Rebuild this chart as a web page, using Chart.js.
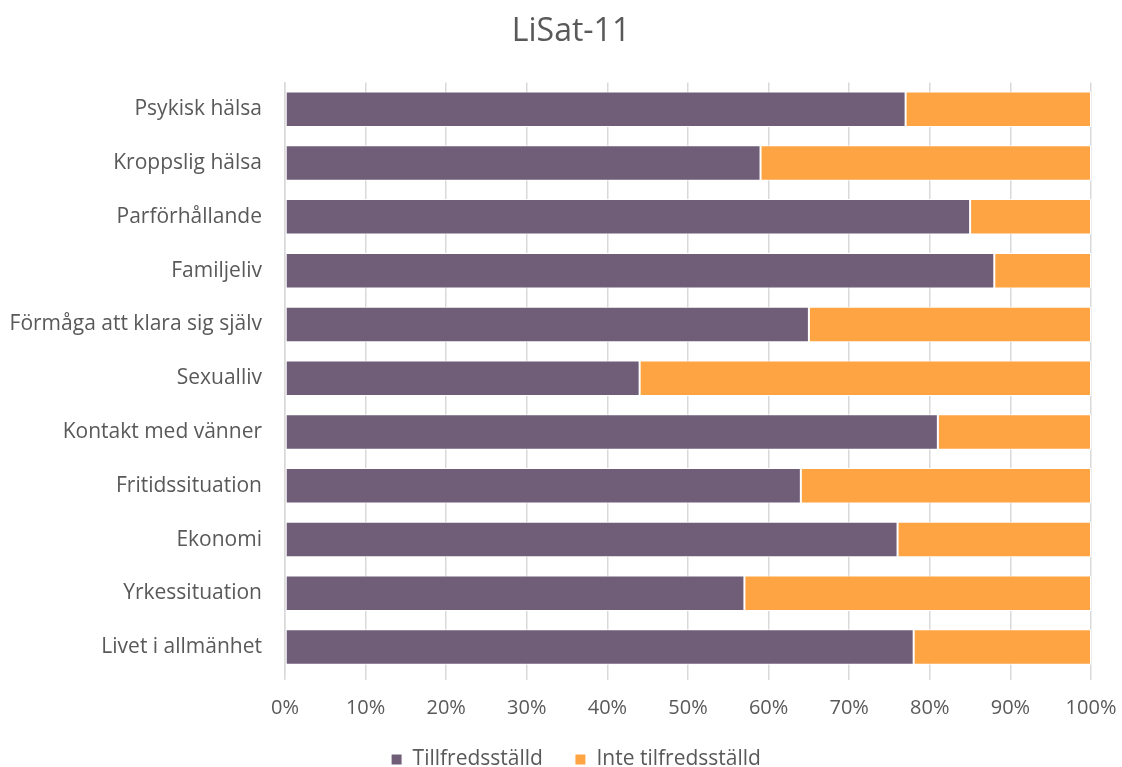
<!DOCTYPE html>
<html>
<head>
<meta charset="utf-8">
<script src="https://cdn.jsdelivr.net/npm/chart.js@4/dist/chart.umd.min.js"></script>
<style>
  html, body { margin: 0; padding: 0; background: #fff; }
  #wrap { width: 1122px; height: 767px; position: relative; }
</style>
</head>
<body>
<div id="wrap"><canvas id="lisat"></canvas></div>
<script>
// LiSat-11 domains, top to bottom
var domains = [
    'Psykisk hälsa',
    'Kroppslig hälsa',
    'Parförhållande',
    'Familjeliv',
    'Förmåga att klara sig själv',
    'Sexualliv',
    'Kontakt med vänner',
    'Fritidssituation',
    'Ekonomi',
    'Yrkessituation',
    'Livet i allmänhet'
];
// percent satisfied per domain
var satisfied = [77, 59, 85, 88, 65, 44, 81, 64, 76, 57, 78];
// percent not satisfied (remainder up to 100)
var notSatisfied = [23, 41, 15, 12, 35, 56, 19, 36, 24, 43, 22];
var xTicks = [0, 10, 20, 30, 40, 50, 60, 70, 80, 90, 100];

var textColor = '#595959';
var font = '"Open Sans", "Liberation Sans", sans-serif';

// the x axis box is kept short so the legend can keep wide item gaps;
// grow it back after layout so the tick labels are not clipped,
// let the long y labels use the left padding, and nudge the legend
var layoutTweak = {
    id: 'layoutTweak',
    afterLayout: function (chart) {
        chart.scales.x.bottom += 30;
        chart.scales.y.left = 0;
        if (chart.legend) {
            chart.legend.top += 13;
            chart.legend.bottom += 13;
            chart.legend.left += 5;
            chart.legend.right += 5;
        }
    }
};

var ctx = document.getElementById('lisat').getContext('2d');

new Chart(ctx, {
    type: 'bar',
    data: {
        labels: domains,
        datasets: [
            {
                label: 'Tillfredsställd',
                data: satisfied,
                backgroundColor: '#705E78',
                borderColor: '#ffffff',
                borderWidth: 1,
                borderSkipped: false,
                categoryPercentage: 0.66,
                barPercentage: 1.0
            },
            {
                label: 'Inte tilfredsställd',
                data: notSatisfied,
                backgroundColor: '#FFA443',
                borderColor: '#ffffff',
                borderWidth: 1,
                borderSkipped: false,
                categoryPercentage: 0.66,
                barPercentage: 1.0
            }
        ]
    },
    options: {
        indexAxis: 'y',
        responsive: true,
        maintainAspectRatio: false,
        animation: false,
        layout: {
            padding: { left: 20, right: 0, top: 0, bottom: 0 }
        },
        scales: {
            x: {
                stacked: true,
                min: 0,
                max: 100,
                afterBuildTicks: function (scale) {
                    scale.ticks = xTicks.map(function (v) { return { value: v }; });
                },
                afterFit: function (scale) {
                    scale.height = 30;
                    scale.paddingRight = 31;
                },
                ticks: {
                    color: textColor,
                    font: { family: font, size: 20 },
                    padding: 16,
                    maxRotation: 0,
                    autoSkip: false,
                    callback: function (v) { return v + '%'; }
                },
                grid: {
                    color: '#d9d9d9',
                    lineWidth: 1.5,
                    drawTicks: true,
                    tickLength: 6
                },
                border: { display: false }
            },
            y: {
                stacked: true,
                afterFit: function (scale) { scale.width = 265; },
                ticks: {
                    color: textColor,
                    font: { family: font, size: 21 },
                    padding: 15
                },
                grid: { display: false },
                border: { display: true, color: '#d9d9d9', width: 1.5 }
            }
        },
        plugins: {
            title: {
                display: true,
                text: 'LiSat-11',
                color: textColor,
                font: { family: font, size: 32, weight: 'normal' },
                padding: { top: 13, bottom: 31 }
            },
            legend: {
                position: 'bottom',
                labels: {
                    color: textColor,
                    font: { family: font, size: 21 },
                    boxWidth: 11,
                    boxHeight: 11,
                    padding: 32
                }
            },
            tooltip: { enabled: false }
        }
    },
    plugins: [layoutTweak]
});
</script>
</body>
</html>
